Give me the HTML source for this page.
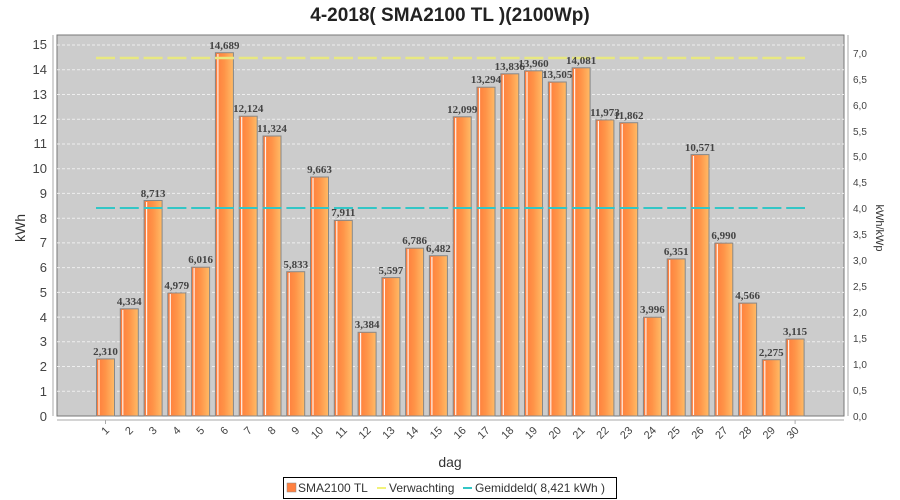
<!DOCTYPE html>
<html><head><meta charset="utf-8"><style>body{margin:0;background:#fff}svg{display:block}</style></head><body>
<svg width="900" height="500" xmlns="http://www.w3.org/2000/svg" font-family="Liberation Sans, sans-serif">
<defs>
<linearGradient id="g" x1="0" x2="1" y1="0" y2="0">
<stop offset="0" stop-color="#ff7a3a"/><stop offset="0.5" stop-color="#ff9448"/><stop offset="1" stop-color="#ffbb66"/>
</linearGradient>
</defs>
<text x="450" y="21" text-anchor="middle" font-size="19" font-weight="bold" fill="#222">4-2018( SMA2100 TL )(2100Wp)</text>
<rect x="57" y="35" width="787" height="381" fill="#cccccc" stroke="#777" stroke-width="1"/>
<g stroke="#eee" stroke-dasharray="3,2" stroke-width="1">
<line x1="57" x2="844" y1="391.3" y2="391.3"/><line x1="57" x2="844" y1="366.5" y2="366.5"/><line x1="57" x2="844" y1="341.8" y2="341.8"/><line x1="57" x2="844" y1="317.1" y2="317.1"/><line x1="57" x2="844" y1="292.4" y2="292.4"/><line x1="57" x2="844" y1="267.6" y2="267.6"/><line x1="57" x2="844" y1="242.9" y2="242.9"/><line x1="57" x2="844" y1="218.2" y2="218.2"/><line x1="57" x2="844" y1="193.4" y2="193.4"/><line x1="57" x2="844" y1="168.7" y2="168.7"/><line x1="57" x2="844" y1="144.0" y2="144.0"/><line x1="57" x2="844" y1="119.2" y2="119.2"/><line x1="57" x2="844" y1="94.5" y2="94.5"/><line x1="57" x2="844" y1="69.8" y2="69.8"/><line x1="57" x2="844" y1="45.0" y2="45.0"/>
</g>
<line x1="53" x2="53" y1="35" y2="416" stroke="#aaa"/>
<line x1="57" x2="844" y1="420" y2="420" stroke="#aaa"/>
<line x1="848" x2="848" y1="35" y2="416" stroke="#aaa"/>
<g font-size="13" fill="#444" text-anchor="end">
<text x="47" y="421">0</text><text x="47" y="396">1</text><text x="47" y="371">2</text><text x="47" y="346">3</text><text x="47" y="322">4</text><text x="47" y="297">5</text><text x="47" y="272">6</text><text x="47" y="247">7</text><text x="47" y="223">8</text><text x="47" y="198">9</text><text x="47" y="173">10</text><text x="47" y="148">11</text><text x="47" y="124">12</text><text x="47" y="99">13</text><text x="47" y="74">14</text><text x="47" y="49">15</text>
</g>
<g font-size="10" fill="#444">
<text x="853" y="420">0,0</text><text x="853" y="394">0,5</text><text x="853" y="368">1,0</text><text x="853" y="342">1,5</text><text x="853" y="316">2,0</text><text x="853" y="290">2,5</text><text x="853" y="264">3,0</text><text x="853" y="238">3,5</text><text x="853" y="212">4,0</text><text x="853" y="186">4,5</text><text x="853" y="160">5,0</text><text x="853" y="135">5,5</text><text x="853" y="109">6,0</text><text x="853" y="83">6,5</text><text x="853" y="57">7,0</text>
</g>
<text transform="translate(25,228) rotate(-90)" text-anchor="middle" font-size="14" fill="#333">kWh</text>
<text transform="translate(876,228) rotate(90)" text-anchor="middle" font-size="11" fill="#333">kWh/kWp</text>
<text x="450" y="467" text-anchor="middle" font-size="14" fill="#333">dag</text>
<g stroke="#888" stroke-width="1" fill="url(#g)">
<rect x="96.5" y="358.9" width="18" height="57.1"/><rect x="120.3" y="308.8" width="18" height="107.2"/><rect x="144.1" y="200.5" width="18" height="215.5"/><rect x="167.8" y="292.9" width="18" height="123.1"/><rect x="191.6" y="267.2" width="18" height="148.8"/><rect x="215.4" y="52.7" width="18" height="363.3"/><rect x="239.2" y="116.2" width="18" height="299.8"/><rect x="263.0" y="136.0" width="18" height="280.0"/><rect x="286.7" y="271.7" width="18" height="144.3"/><rect x="310.5" y="177.0" width="18" height="239.0"/><rect x="334.3" y="220.4" width="18" height="195.6"/><rect x="358.1" y="332.3" width="18" height="83.7"/><rect x="381.9" y="277.6" width="18" height="138.4"/><rect x="405.6" y="248.2" width="18" height="167.8"/><rect x="429.4" y="255.7" width="18" height="160.3"/><rect x="453.2" y="116.8" width="18" height="299.2"/><rect x="477.0" y="87.2" width="18" height="328.8"/><rect x="500.8" y="73.8" width="18" height="342.2"/><rect x="524.5" y="70.8" width="18" height="345.2"/><rect x="548.3" y="82.0" width="18" height="334.0"/><rect x="572.1" y="67.8" width="18" height="348.2"/><rect x="595.9" y="119.9" width="18" height="296.1"/><rect x="619.7" y="122.7" width="18" height="293.3"/><rect x="643.4" y="317.2" width="18" height="98.8"/><rect x="667.2" y="258.9" width="18" height="157.1"/><rect x="691.0" y="154.6" width="18" height="261.4"/><rect x="714.8" y="243.1" width="18" height="172.9"/><rect x="738.6" y="303.1" width="18" height="112.9"/><rect x="762.3" y="359.7" width="18" height="56.3"/><rect x="786.1" y="339.0" width="18" height="77.0"/>
</g>
<g stroke="#fff" stroke-width="1.2" opacity="0.9">
<line x1="99" x2="99" y1="360" y2="415"/><line x1="122.8" x2="122.8" y1="310" y2="415"/><line x1="146.6" x2="146.6" y1="202" y2="415"/><line x1="170.3" x2="170.3" y1="294" y2="415"/><line x1="194.1" x2="194.1" y1="268" y2="415"/><line x1="217.9" x2="217.9" y1="54" y2="415"/><line x1="241.7" x2="241.7" y1="117" y2="415"/><line x1="265.5" x2="265.5" y1="137" y2="415"/><line x1="289.2" x2="289.2" y1="273" y2="415"/><line x1="313" x2="313" y1="178" y2="415"/><line x1="336.8" x2="336.8" y1="221" y2="415"/><line x1="360.6" x2="360.6" y1="333" y2="415"/><line x1="384.4" x2="384.4" y1="279" y2="415"/><line x1="408.1" x2="408.1" y1="249" y2="415"/><line x1="431.9" x2="431.9" y1="257" y2="415"/><line x1="455.7" x2="455.7" y1="118" y2="415"/><line x1="479.5" x2="479.5" y1="88" y2="415"/><line x1="503.3" x2="503.3" y1="75" y2="415"/><line x1="527" x2="527" y1="72" y2="415"/><line x1="550.8" x2="550.8" y1="83" y2="415"/><line x1="574.6" x2="574.6" y1="69" y2="415"/><line x1="598.4" x2="598.4" y1="121" y2="415"/><line x1="622.2" x2="622.2" y1="124" y2="415"/><line x1="645.9" x2="645.9" y1="318" y2="415"/><line x1="669.7" x2="669.7" y1="260" y2="415"/><line x1="693.5" x2="693.5" y1="156" y2="415"/><line x1="717.3" x2="717.3" y1="244" y2="415"/><line x1="741.1" x2="741.1" y1="304" y2="415"/><line x1="764.8" x2="764.8" y1="361" y2="415"/><line x1="788.6" x2="788.6" y1="340" y2="415"/>
</g>
<line x1="96" x2="805" y1="58" y2="58" stroke="#e8e880" stroke-width="2.5" stroke-dasharray="19,4.8"/>
<line x1="96" x2="805" y1="208" y2="208" stroke="#33c6c6" stroke-width="2" stroke-dasharray="19,4.8"/>
<g font-family="Liberation Serif, serif" font-size="11" font-weight="bold" fill="#444" text-anchor="middle">
<text x="105.5" y="355">2,310</text><text x="129.3" y="305">4,334</text><text x="153.1" y="197">8,713</text><text x="176.8" y="289">4,979</text><text x="200.6" y="263">6,016</text><text x="224.4" y="49">14,689</text><text x="248.2" y="112">12,124</text><text x="272.0" y="132">11,324</text><text x="295.7" y="268">5,833</text><text x="319.5" y="173">9,663</text><text x="343.3" y="216">7,911</text><text x="367.1" y="328">3,384</text><text x="390.9" y="274">5,597</text><text x="414.6" y="244">6,786</text><text x="438.4" y="252">6,482</text><text x="462.2" y="113">12,099</text><text x="486.0" y="83">13,294</text><text x="509.8" y="70">13,836</text><text x="533.5" y="67">13,960</text><text x="557.3" y="78">13,505</text><text x="581.1" y="64">14,081</text><text x="604.9" y="116">11,973</text><text x="628.7" y="119">11,862</text><text x="652.4" y="313">3,996</text><text x="676.2" y="255">6,351</text><text x="700.0" y="151">10,571</text><text x="723.8" y="239">6,990</text><text x="747.6" y="299">4,566</text><text x="771.3" y="356">2,275</text><text x="795.1" y="335">3,115</text>
</g>
<g stroke="#aaa"><line x1="105.5" x2="105.5" y1="420" y2="424"/><line x1="795.1" x2="795.1" y1="420" y2="424"/></g>
<g font-size="11" fill="#444" text-anchor="end">
<text transform="translate(110,431) rotate(-45)">1</text><text transform="translate(133.8,431) rotate(-45)">2</text><text transform="translate(157.6,431) rotate(-45)">3</text><text transform="translate(181.3,431) rotate(-45)">4</text><text transform="translate(205.1,431) rotate(-45)">5</text><text transform="translate(228.9,431) rotate(-45)">6</text><text transform="translate(252.7,431) rotate(-45)">7</text><text transform="translate(276.5,431) rotate(-45)">8</text><text transform="translate(300.2,431) rotate(-45)">9</text><text transform="translate(324,431) rotate(-45)">10</text><text transform="translate(347.8,431) rotate(-45)">11</text><text transform="translate(371.6,431) rotate(-45)">12</text><text transform="translate(395.4,431) rotate(-45)">13</text><text transform="translate(419.1,431) rotate(-45)">14</text><text transform="translate(442.9,431) rotate(-45)">15</text><text transform="translate(466.7,431) rotate(-45)">16</text><text transform="translate(490.5,431) rotate(-45)">17</text><text transform="translate(514.3,431) rotate(-45)">18</text><text transform="translate(538,431) rotate(-45)">19</text><text transform="translate(561.8,431) rotate(-45)">20</text><text transform="translate(585.6,431) rotate(-45)">21</text><text transform="translate(609.4,431) rotate(-45)">22</text><text transform="translate(633.2,431) rotate(-45)">23</text><text transform="translate(656.9,431) rotate(-45)">24</text><text transform="translate(680.7,431) rotate(-45)">25</text><text transform="translate(704.5,431) rotate(-45)">26</text><text transform="translate(728.3,431) rotate(-45)">27</text><text transform="translate(752.1,431) rotate(-45)">28</text><text transform="translate(775.8,431) rotate(-45)">29</text><text transform="translate(799.6,431) rotate(-45)">30</text>
</g>
<rect x="283.5" y="477.5" width="333" height="21" fill="#fff" stroke="#000"/>
<rect x="287" y="483" width="9" height="9" fill="#ff8040" stroke="#888" stroke-width="0.5"/>
<line x1="377" x2="386" y1="488" y2="488" stroke="#f2f27a" stroke-width="2"/>
<line x1="463" x2="472" y1="488" y2="488" stroke="#33c6c6" stroke-width="2"/>
<g font-size="12" fill="#333"><text x="298" y="492">SMA2100 TL</text><text x="389" y="492">Verwachting</text><text x="475" y="492">Gemiddeld( 8,421 kWh )</text></g>
</svg>
</body></html>
